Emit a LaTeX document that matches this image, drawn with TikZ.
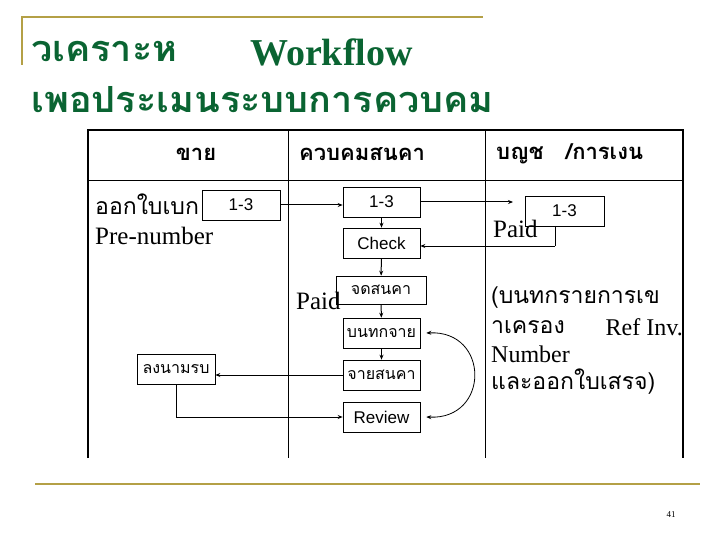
\documentclass[tikz,border=0pt]{standalone}
\usepackage{fontspec}
\setmainfont{Liberation Serif}
\newfontfamily\thai[Script=Thai]{Loma}
\newfontfamily\thaiw[Script=Thai,FakeStretch=1.05]{Loma}
\newfontfamily\arial{Liberation Sans}
\usetikzlibrary{arrows.meta}
\definecolor{gold}{RGB}{180,160,70}
\definecolor{tgreen}{RGB}{10,100,50}
\begin{document}
\begin{tikzpicture}[x=1pt,y=-1pt,
  bx/.style={draw,line width=0.6pt,inner sep=0pt,font=\arial\fontsize{17}{19}\selectfont},
  tb/.style={draw,line width=0.6pt,inner sep=0pt,font=\thai\fontsize{16}{18}\selectfont},
  ar/.style={-{Stealth[length=5pt,width=4pt]},line width=1pt},
  txt/.style={inner sep=0pt,anchor=west}]
\useasboundingbox (0,0) rectangle (720,540);
\draw[gold,line width=1.5pt] (22,65) -- (22,17) -- (483,17);
\draw[gold,line width=1.5pt] (35,484) -- (700,484);
\node[txt,text=tgreen,font=\thaiw\bfseries\fontsize{36}{38}\selectfont] (t1) at (31,52) {วเคราะห};
\node[txt,text=tgreen,font=\bfseries\fontsize{38}{40}\selectfont] (t1b) at (250,52) {Workflow};
\node[txt,text=tgreen,font=\thaiw\bfseries\fontsize{36}{38}\selectfont] (t2) at (31,100) {เพอประเมนระบบการควบคม};
% table
\draw[line width=1.5pt] (88,458) -- (88,130) -- (683,130) -- (683,458);
\draw[line width=0.8pt] (88,180) -- (683,180);
\draw[line width=0.8pt] (288,130) -- (288,458) (485,130) -- (485,458);
\node[font=\thai\bfseries\fontsize{22}{24}\selectfont] (h1) at (196,154) {ขาย};
\node[font=\thai\bfseries\fontsize{22}{24}\selectfont] (h2) at (362,154) {ควบคมสนคา};
\node[txt,font=\thai\bfseries\fontsize{22}{24}\selectfont] (h3) at (496,154) {บญช\hspace{22pt}/การเงน};
% texts
\node[txt,font=\thai\fontsize{23}{25}\selectfont] (s1) at (95,204) {ออกใบเบก};
\node[txt,font=\fontsize{25}{27}\selectfont] (s2) at (95,236) {Pre-number};
\node[txt,font=\fontsize{25}{27}\selectfont] (p1) at (296,301) {Paid};
\node[txt,font=\fontsize{25}{27}\selectfont] (p2) at (493,229) {Paid};
\node[txt,font=\thai\fontsize{23}{25}\selectfont] (r1) at (491,298) {(บนทกรายการเข};
\node[txt,font=\thai\fontsize{23}{25}\selectfont] (r2) at (491,327) {าเครอง};
\node[anchor=east,inner sep=0pt,font=\fontsize{24}{26}\selectfont] (r2b) at (683,327) {Ref Inv.};
\node[txt,font=\fontsize{24}{26}\selectfont] (r3) at (491,354) {Number};
\node[txt,font=\thai\fontsize{23}{25}\selectfont] (r4) at (491,382) {และออกใบเสรจ)};
% boxes
\node[bx,minimum width=78pt,minimum height=30pt] (a1) at (241,205) {1-3};
\node[bx,minimum width=77pt,minimum height=30pt] (c1) at (381.5,202) {1-3};
\node[bx,minimum width=77pt,minimum height=30pt] (c2) at (381.5,243) {Check};
\node[tb,minimum width=90pt,minimum height=28pt] (c3) at (381,290) {จดสนคา};
\node[tb,minimum width=77pt,minimum height=30pt] (c4) at (381.5,333) {บนทกจาย};
\node[tb,minimum width=77pt,minimum height=30pt] (c5) at (381.5,375) {จายสนคา};
\node[bx,minimum width=77pt,minimum height=30pt] (c6) at (381.5,417) {Review};
\node[tb,minimum width=78pt,minimum height=30pt] (s3) at (176,369) {ลงนามรบ};
\node[bx,minimum width=79pt,minimum height=30pt] (f1) at (564.5,211) {1-3};
\coordinate (e1) at (513,202);
\coordinate (k1) at (555,226);
\coordinate (k2) at (555,246);
% connectors
\draw[ar] (a1.east) -- (a1.east -| c1.west);
\draw[ar] (c1.east) -- (e1);
\draw[line width=1pt] (k1) -- (k2);
\draw[ar] (k2) -- (c2.east |- k2);
\draw[ar] (c1) -- (c2);
\draw[ar] (c2) -- (c3);
\draw[ar] (c3) -- (c4);
\draw[ar] (c4) -- (c5);
\draw[ar] (c5.west) -- (c5.west -| s3.east);
\draw[ar] (s3.south) |- (c6.west);
\draw[{Stealth[length=5pt,width=4pt]}-{Stealth[length=5pt,width=4pt]},line width=0.8pt] ([xshift=6pt]c4.east) .. controls (490,330) and (490,420) .. ([xshift=6pt]c6.east);
\node[font=\fontsize{9}{10}\selectfont] (pg) at (671,515) {41};
\end{tikzpicture}
\end{document}
